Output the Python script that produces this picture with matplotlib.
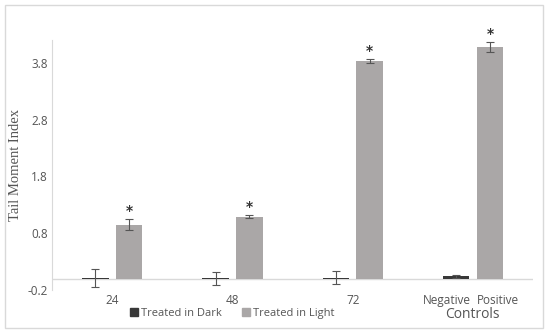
import matplotlib.pyplot as plt
from matplotlib.patches import Patch, Rectangle

groups = ['24', '48', '72', 'Controls']
dark_vals = [0.01, 0.005, 0.02, 0.04]
dark_err = [0.16, 0.11, 0.12, 0.03]
light_vals = [0.95, 1.09, 3.83, 4.08]
light_err = [0.10, 0.03, 0.04, 0.09]
ticks = [-0.2, 0.8, 1.8, 2.8, 3.8]

dark_color = '#383838'
light_color = '#aaa7a7'
font = ['Open Sans', 'DejaVu Sans']

fig = plt.figure(figsize=(5.5, 3.33), dpi=100)
fig.patches.append(Rectangle((0.009, 0.015), 0.978, 0.97, transform=fig.transFigure,
                             fill=False, edgecolor='#d9d9d9', linewidth=1))
ax = fig.add_axes([0.0945, 0.129, 0.875, 0.751])

x = list(range(len(groups)))
off = 0.14
w = 0.22

# dark bars (the control group has only a negative one)
ax.bar([i - off for i in x], dark_vals, width=w, color=dark_color, zorder=3)
ax.errorbar([i - off for i in x], dark_vals, yerr=dark_err, fmt='none', ecolor='#555555',
            elinewidth=0.8, capsize=3, capthick=0.8, zorder=4)
ax.bar([i + off for i in x], light_vals, width=w, color=light_color, zorder=3)
ax.errorbar([i + off for i in x], light_vals, yerr=light_err, fmt='none', ecolor='#555555',
            elinewidth=0.8, capsize=3, capthick=0.8, zorder=4)

for i in x:
    ax.text(i + off, light_vals[i] + light_err[i] + 0.01, '*', ha='center', va='bottom',
            fontsize=10, fontweight='bold', color='#333333')

ax.set_xlim(-0.5, 3.5)
ax.set_ylim(-0.2, 4.2)
ax.set_yticks(ticks)
ax.set_yticklabels([f'{t:.1f}' for t in ticks], family=font, fontsize=8.5, color='#555555')
ax.axhline(0, color='#d9d9d9', linewidth=1, zorder=2)

ax.set_xticks([0, 1, 2, 3 - 0.22, 3 + 0.21])
ax.set_xticklabels(groups[:3] + ['Negative', 'Positive'], family=font, fontsize=8.5,
                   color='#555555')
ax.tick_params(axis='both', length=0, pad=3)

for s in ['top', 'right', 'bottom']:
    ax.spines[s].set_visible(False)
ax.spines['left'].set_color('#d9d9d9')

ax.set_ylabel('Tail Moment Index', family='Liberation Serif', fontsize=10.5, color='#555555',
              labelpad=4)

fig.text(0.858, 0.055, groups[3], ha='center', va='center', family=font, fontsize=10,
         color='#555555')

handles = [Patch(color=dark_color, label='Treated in Dark'),
           Patch(color=light_color, label='Treated in Light')]
fig.legend(handles=handles, loc='center', bbox_to_anchor=(0.422, 0.058), ncol=2, frameon=False,
           prop={'family': font, 'size': 8}, labelcolor='#555555', handlelength=0.7,
           handleheight=0.7, handletextpad=0.3, columnspacing=1.8)

fig.savefig('out.png', dpi=100)
